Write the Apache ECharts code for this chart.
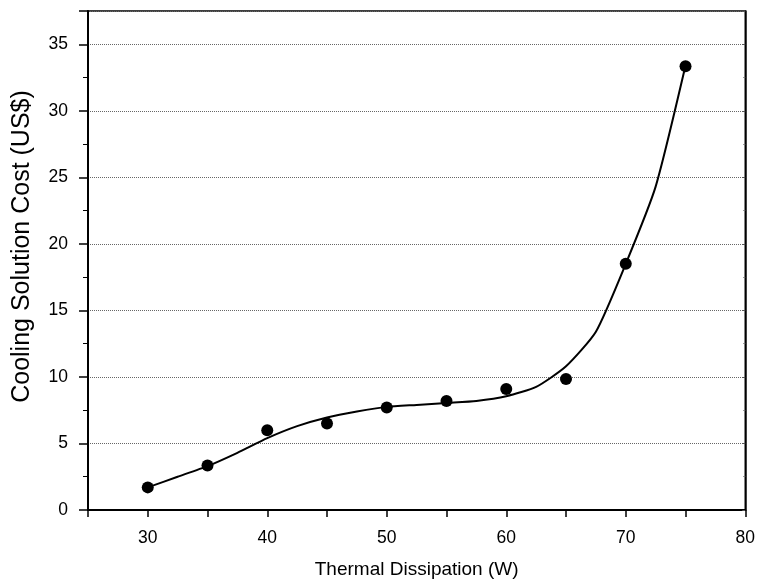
<!DOCTYPE html>
<html><head><meta charset="utf-8">
<script src="https://cdn.jsdelivr.net/npm/echarts@6/dist/echarts.min.js"></script>
<style>html,body{margin:0;padding:0;background:#fff}#c{width:758px;height:587px}</style>
</head><body><div id="c"></div>
<script>
// measured data points
const powerW = [30, 35, 40, 45, 50, 55, 60, 65, 70, 75];
const costUSD = [1.7, 3.35, 6.0, 6.5, 7.7, 8.2, 9.1, 9.85, 18.5, 33.35];
// fitted curve
const fitX = [30, 32.5, 35, 37.5, 40, 42.5, 45, 47.5, 50, 52.5, 55, 57.5, 60, 62.5, 65, 67.5, 70, 72.5, 75];
const fitY = [1.7, 2.5, 3.3, 4.3, 5.4, 6.3, 6.95, 7.4, 7.75, 7.9, 8.05, 8.2, 8.55, 9.25, 10.8, 13.4, 18.5, 24.3, 33.4];
const xTitle = 'Thermal Dissipation (W)';
const yTitle = 'Cooling Solution Cost (US$)';

const font = 'Liberation Sans, Arial, sans-serif';
const chart = echarts.init(document.getElementById('c'), null, {renderer: 'canvas'});
chart.setOption({
  animation: false,
  backgroundColor: '#fff',
  grid: {left: 88, right: 10, top: 11, bottom: 77, show: true, borderColor: '#000', borderWidth: 1.5, backgroundColor: 'transparent'},
  xAxis: {
    type: 'value', min: 25, max: 80, interval: 5,
    name: xTitle, nameLocation: 'middle', nameGap: 50,
    nameTextStyle: {fontFamily: font, fontSize: 19, color: '#000'},
    axisLine: {show: true, onZero: false, lineStyle: {color: '#000', width: 2}},
    axisTick: {show: true, inside: false, length: 7, lineStyle: {color: '#000', width: 1.5}},
    axisLabel: {fontFamily: font, fontSize: 17.5, color: '#000', margin: 19,
      formatter: v => (v % 10 === 0 && v > 25) ? String(v) : ''},
    splitLine: {show: false}
  },
  yAxis: [{
    type: 'value', min: 0, max: 37.5, interval: 5,
    name: yTitle, nameLocation: 'middle', nameGap: 53,
    nameTextStyle: {fontFamily: font, fontSize: 25, color: '#000', padding: [0, 0, 0, 28]},
    axisLine: {show: true, lineStyle: {color: '#000', width: 2}},
    axisTick: {show: true, inside: false, length: 9, lineStyle: {color: '#000', width: 1.5}},
    minorTick: {show: true, splitNumber: 2, length: 5, lineStyle: {color: '#000', width: 1}},
    axisLabel: {fontFamily: font, fontSize: 17.5, color: '#000', margin: 20, showMaxLabel: false,
      formatter: v => (v % 5 === 0) ? String(v) : ''},
    splitLine: {show: true, lineStyle: {color: '#666', width: 1, type: 'dotted'}}
  }, {
    type: 'value', min: 0, max: 37.5, interval: 5, position: 'right',
    axisLine: {show: true, lineStyle: {color: '#000', width: 1.5}},
    axisTick: {show: true, inside: true, length: 3, lineStyle: {color: '#555', width: 1}},
    minorTick: {show: true, splitNumber: 2, length: 2, lineStyle: {color: '#777', width: 1}},
    axisLabel: {show: false},
    splitLine: {show: false}
  }],
  series: [{
    type: 'line', data: fitX.map((x, i) => [x, fitY[i]]),
    showSymbol: false, symbol: 'none', smooth: 0.2,
    lineStyle: {color: '#000', width: 2}, z: 2
  }, {
    type: 'scatter', data: powerW.map((x, i) => [x, costUSD[i]]),
    symbol: 'circle', symbolSize: 12,
    itemStyle: {color: '#000', opacity: 1}, z: 3
  }]
});
</script></body></html>
